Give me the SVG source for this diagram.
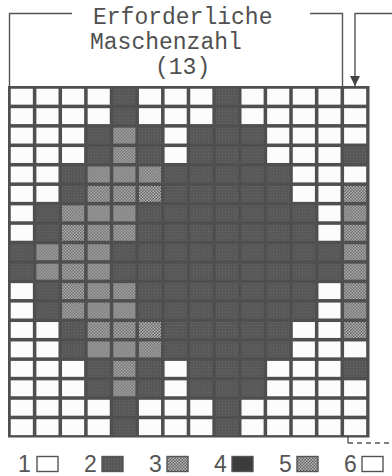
<svg xmlns="http://www.w3.org/2000/svg" xmlns:xlink="http://www.w3.org/1999/xlink" width="392" height="476" viewBox="0 0 392 476">
<style>
.ttl{font-family:"Liberation Mono","DejaVu Sans Mono",monospace;font-size:23px;fill:#505050}
.num{font-family:"Liberation Sans",Arial,sans-serif;font-size:23px;fill:#555}
.ln{fill:none;stroke:#555;stroke-width:1.4}
.lb{stroke:#555;stroke-width:1.4}
</style>
<defs>
<pattern id="pd" width="3" height="3" patternUnits="userSpaceOnUse">
<rect width="3" height="3" fill="#575757"/>
<rect width="1" height="1" fill="#6d6d6d"/>
</pattern>
<pattern id="pc" width="3" height="3" patternUnits="userSpaceOnUse">
<rect width="3" height="3" fill="#5e5e5e"/>
<rect width="1.5" height="1.5" fill="#bdbdbd"/>
<rect x="1.5" y="1.5" width="1.5" height="1.5" fill="#bdbdbd"/>
</pattern>
<rect id="W" width="22.1" height="15.9" fill="#fcfcfc"/>
<rect id="D" width="22.1" height="15.9" fill="url(#pd)"/>
<rect id="C" width="22.1" height="15.9" fill="url(#pc)"/>
<marker id="ah" viewBox="0 0 10 10" refX="10" refY="5" markerWidth="10" markerHeight="10" markerUnits="userSpaceOnUse" orient="auto">
<path d="M0,0 L10,5 L0,10 Z" fill="#444"/>
</marker>
<g id="R0"><use href="#W" x="10.75"/><use href="#W" x="36.39"/><use href="#W" x="62.03"/><use href="#W" x="87.67"/><use href="#D" x="113.31"/><use href="#W" x="138.95"/><use href="#W" x="164.59"/><use href="#W" x="190.23"/><use href="#D" x="215.87"/><use href="#W" x="241.51"/><use href="#W" x="267.15"/><use href="#W" x="292.79"/><use href="#W" x="318.43"/><use href="#W" x="344.07"/></g>
<g id="R2"><use href="#W" x="10.75"/><use href="#W" x="36.39"/><use href="#W" x="62.03"/><use href="#D" x="87.67"/><use href="#C" x="113.31"/><use href="#D" x="138.95"/><use href="#W" x="164.59"/><use href="#D" x="190.23"/><use href="#D" x="215.87"/><use href="#D" x="241.51"/><use href="#W" x="267.15"/><use href="#W" x="292.79"/><use href="#W" x="318.43"/><use href="#W" x="344.07"/></g>
<g id="R3"><use href="#W" x="10.75"/><use href="#W" x="36.39"/><use href="#W" x="62.03"/><use href="#D" x="87.67"/><use href="#C" x="113.31"/><use href="#D" x="138.95"/><use href="#W" x="164.59"/><use href="#D" x="190.23"/><use href="#D" x="215.87"/><use href="#D" x="241.51"/><use href="#W" x="267.15"/><use href="#W" x="292.79"/><use href="#W" x="318.43"/><use href="#D" x="344.07"/></g>
<g id="R4"><use href="#W" x="10.75"/><use href="#W" x="36.39"/><use href="#D" x="62.03"/><use href="#C" x="87.67"/><use href="#C" x="113.31"/><use href="#C" x="138.95"/><use href="#D" x="164.59"/><use href="#D" x="190.23"/><use href="#D" x="215.87"/><use href="#D" x="241.51"/><use href="#D" x="267.15"/><use href="#W" x="292.79"/><use href="#W" x="318.43"/><use href="#W" x="344.07"/></g>
<g id="R5"><use href="#W" x="10.75"/><use href="#W" x="36.39"/><use href="#D" x="62.03"/><use href="#C" x="87.67"/><use href="#C" x="113.31"/><use href="#C" x="138.95"/><use href="#D" x="164.59"/><use href="#D" x="190.23"/><use href="#D" x="215.87"/><use href="#D" x="241.51"/><use href="#D" x="267.15"/><use href="#W" x="292.79"/><use href="#W" x="318.43"/><use href="#C" x="344.07"/></g>
<g id="R6"><use href="#W" x="10.75"/><use href="#D" x="36.39"/><use href="#C" x="62.03"/><use href="#C" x="87.67"/><use href="#C" x="113.31"/><use href="#D" x="138.95"/><use href="#D" x="164.59"/><use href="#D" x="190.23"/><use href="#D" x="215.87"/><use href="#D" x="241.51"/><use href="#D" x="267.15"/><use href="#D" x="292.79"/><use href="#W" x="318.43"/><use href="#C" x="344.07"/></g>
<g id="R8"><use href="#D" x="10.75"/><use href="#C" x="36.39"/><use href="#C" x="62.03"/><use href="#C" x="87.67"/><use href="#D" x="113.31"/><use href="#D" x="138.95"/><use href="#D" x="164.59"/><use href="#D" x="190.23"/><use href="#D" x="215.87"/><use href="#D" x="241.51"/><use href="#D" x="267.15"/><use href="#D" x="292.79"/><use href="#D" x="318.43"/><use href="#C" x="344.07"/></g>
</defs>
<rect width="392" height="476" fill="#fff"/>
<g id="title">
<text class="ttl" x="93" y="24">Erforderliche</text>
<text class="ttl" x="90" y="49">Maschenzahl</text>
<text class="ttl" x="155" y="74">(13)</text>
</g>
<g id="grid">
<rect x="8" y="86" width="361.5" height="351.5" fill="#4f4f4f"/>
<use href="#R0" y="88.75"/>
<use href="#R0" y="108.19"/>
<use href="#R2" y="127.63"/>
<use href="#R3" y="147.07"/>
<use href="#R4" y="166.51"/>
<use href="#R5" y="185.95"/>
<use href="#R6" y="205.39"/>
<use href="#R6" y="224.83"/>
<use href="#R8" y="244.27"/>
<use href="#R8" y="263.71"/>
<use href="#R6" y="283.15"/>
<use href="#R6" y="302.59"/>
<use href="#R5" y="322.03"/>
<use href="#R4" y="341.47"/>
<use href="#R3" y="360.91"/>
<use href="#R2" y="380.35"/>
<use href="#R0" y="399.79"/>
<use href="#R0" y="419.23"/>
</g>
<g id="connectors">
<path class="ln" d="M9.5,86 V13.5 H72"/>
<path class="ln" d="M310,13.5 H342.5 V86"/>
<path class="ln" d="M392,13.5 H355 V86" marker-end="url(#ah)"/>
<path class="ln" d="M348,437 V443"/>
<path class="ln" d="M348,443 H392" stroke-dasharray="5,4"/>
</g>
<g id="legend">
<text class="num" x="18" y="472">1</text>
<rect class="lb" x="37" y="456.5" width="21" height="15" fill="#fff"/>
<text class="num" x="84" y="472">2</text>
<rect class="lb" x="102" y="456.5" width="21" height="15" fill="url(#pd)"/>
<text class="num" x="149" y="472">3</text>
<rect class="lb" x="167" y="456.5" width="21" height="15" fill="url(#pc)"/>
<text class="num" x="214" y="472">4</text>
<rect class="lb" x="232" y="456.5" width="21" height="15" fill="#3c3c3c"/>
<text class="num" x="279" y="472">5</text>
<rect class="lb" x="297" y="456.5" width="21" height="15" fill="url(#pc)"/>
<text class="num" x="344" y="472">6</text>
<rect class="lb" x="362" y="456.5" width="21" height="15" fill="#fff"/>
</g>
</svg>
